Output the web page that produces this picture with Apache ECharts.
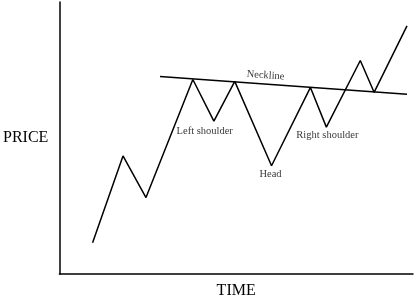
<!DOCTYPE html>
<html><head><meta charset="utf-8">
<script src="https://cdn.jsdelivr.net/npm/echarts@6/dist/echarts.min.js"></script>
<style>html,body{margin:0;padding:0;background:#fff}#c{width:416px;height:304px}</style>
</head><body><div id="c"></div>
<script>
// Price path (time, price) in arbitrary units
var time = [9.4, 18.0, 24.5, 37.75, 43.7, 49.6, 60.0, 71.0, 75.5, 85.1, 89.0, 98.3];
var price = [11.5, 43.4, 28.1, 71.5, 56.2, 70.8, 39.8, 68.6, 54.0, 78.5, 66.8, 91.2];
// Neckline endpoints
var neckTime = [28.45, 98.3];
var neckPrice = [72.6, 66.1];
// Annotations
var noteText = ['Left shoulder', 'Head', 'Right shoulder'];
var noteTime = [41.1, 59.7, 75.8];
var notePrice = [52.6, 36.5, 51.1];
var neckLabel = 'Neckline';
var neckLabelPos = [58.3, 73.0];

var F = '"Liberation Serif","DejaVu Serif",serif';
var chart = echarts.init(document.getElementById('c'), null, {renderer: 'canvas'});
chart.setOption({
  animation: false,
  grid: {left: 57.5, right: 3, top: 2, bottom: 28},
  xAxis: {
    type: 'value', min: 0, max: 100,
    name: 'TIME', nameLocation: 'middle', nameGap: 9,
    nameTextStyle: {fontFamily: F, fontSize: 16, color: '#000'},
    axisLine: {show: true, onZero: false, lineStyle: {color: '#000', width: 1.5}},
    axisTick: {show: false}, axisLabel: {show: false}, splitLine: {show: false}
  },
  yAxis: {
    type: 'value', min: 0, max: 100,
    name: 'PRICE', nameLocation: 'middle', nameGap: 11, nameRotate: 0,
    nameTextStyle: {fontFamily: F, fontSize: 16, color: '#000'},
    axisLine: {show: true, onZero: false, lineStyle: {color: '#000', width: 1.5}},
    axisTick: {show: false}, axisLabel: {show: false}, splitLine: {show: false}
  },
  series: [
    {
      type: 'line', symbol: 'none',
      data: time.map(function (t, i) { return [t, price[i]]; }),
      lineStyle: {color: '#000', width: 1.5}
    },
    {
      type: 'line', symbol: 'none',
      data: neckTime.map(function (t, i) { return [t, neckPrice[i]]; }),
      lineStyle: {color: '#000', width: 1.5}
    },
    {
      type: 'scatter', symbolSize: 0,
      data: noteTime.map(function (t, i) { return {value: [t, notePrice[i]], name: noteText[i]}; }),
      label: {show: true, position: 'inside', formatter: '{b}', fontFamily: F, fontSize: 10.5, color: '#000'}
    },
    {
      type: 'scatter', symbolSize: 0,
      data: [{value: neckLabelPos, name: neckLabel}],
      label: {show: true, position: 'inside', formatter: '{b}', rotate: -4, fontFamily: F, fontSize: 10.5, color: '#000'}
    }
  ]
});
</script>
</body></html>
